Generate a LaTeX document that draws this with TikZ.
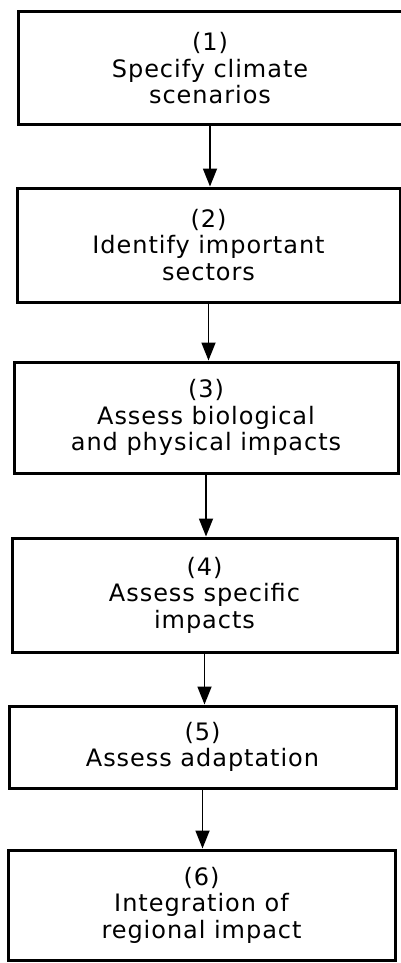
\documentclass[tikz,border=0pt]{standalone}
\usepackage{fontspec}
\setmainfont{DejaVu Sans}[LetterSpace=4]
\usetikzlibrary{arrows.meta}
\begin{document}
\begin{tikzpicture}[x={(1pt,0)},y={(0,-1pt)},
  stepbox/.style={draw=black,line width=3pt,rectangle,align=center,inner sep=0pt,
    font=\fontsize{24}{26.5}\selectfont},
  flow/.style={line width=1.8pt,-{Triangle[width=14pt,length=18pt]}}]
\useasboundingbox (0,0) rectangle (401,963);
\clip (0,0) rectangle (401,963);
\fill[white] (0,0) rectangle (401,963);
\node[stepbox,minimum width=384pt,minimum height=113pt] (b1) at (210,68.5) {(1)\\Specify climate\\scenarios};
\node[stepbox,minimum width=383pt,minimum height=114pt] (b2) at (208.5,245) {(2)\\Identify important\\sectors};
\node[stepbox,minimum width=384pt,minimum height=111pt] (b3) at (206,417.5) {(3)\\Assess biological\\and physical impacts};
\node[stepbox,minimum width=385pt,minimum height=114pt] (b4) at (204.5,595) {(4)\\Assess specific\\impacts};
\node[stepbox,minimum width=387pt,minimum height=82pt] (b5) at (202.5,747) {(5)\\Assess adaptation};
\node[stepbox,minimum width=387pt,minimum height=110pt] (b6) at (201.5,905) {(6)\\Integration of\\regional impact};
\draw[flow] (b1.south) -- (b1.south |- b2.north);
\draw[flow] (b2.south) -- (b2.south |- b3.north);
\draw[flow] (b3.south) -- (b3.south |- b4.north);
\draw[flow] (b4.south) -- (b4.south |- b5.north);
\draw[flow] (b5.south) -- (b5.south |- b6.north);
\end{tikzpicture}
\end{document}
